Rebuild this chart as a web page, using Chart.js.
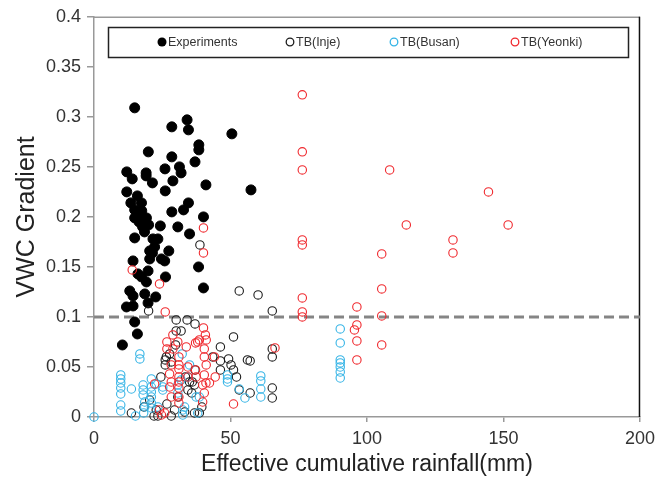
<!DOCTYPE html>
<html>
<head>
<meta charset="utf-8">
<script src="https://cdn.jsdelivr.net/npm/chart.js@4.4.1/dist/chart.umd.min.js"></script>
<style>
  html, body { margin: 0; padding: 0; background: #fff; }
  #wrap { width: 661px; height: 478px; }
</style>
</head>
<body>
<div id="wrap"><canvas id="chart" width="661" height="478"></canvas></div>
<script>
/* ================= DATA ================= */
const xTicks = [0, 50, 100, 150, 200];
const yTicks = [0, 0.05, 0.1, 0.15, 0.2, 0.25, 0.3, 0.35, 0.4];
const yTickLabels = ["0", "0.05", "0.1", "0.15", "0.2", "0.25", "0.3", "0.35", "0.4"];
const thresholdY = 0.1;
const seriesNames = ["Experiments", "TB(Inje)", "TB(Busan)", "TB(Yeonki)"];

// [effective cumulative rainfall (mm), VWC gradient]
const experiments = [
  [14.9, 0.309], [28.5, 0.290], [34.1, 0.297], [34.6, 0.287], [50.5, 0.283],
  [19.9, 0.265], [38.4, 0.272], [38.4, 0.267], [28.5, 0.260], [37.0, 0.255],
  [12.0, 0.245], [14.0, 0.238], [19.1, 0.244], [19.1, 0.241], [21.4, 0.234],
  [26.0, 0.248], [31.3, 0.250], [31.9, 0.244], [28.9, 0.236], [26.1, 0.226],
  [41.0, 0.232], [12.0, 0.225], [15.9, 0.221], [13.5, 0.214], [17.4, 0.214],
  [14.9, 0.207], [17.5, 0.206], [34.6, 0.214], [32.8, 0.207], [28.5, 0.205],
  [40.1, 0.200], [57.5, 0.227], [14.9, 0.199], [19.2, 0.199], [24.3, 0.191],
  [30.7, 0.190], [35.0, 0.183], [14.9, 0.179], [21.6, 0.178], [23.4, 0.178],
  [21.4, 0.164], [27.4, 0.166], [24.7, 0.158], [25.9, 0.156], [20.4, 0.158],
  [14.3, 0.156], [38.3, 0.150], [19.8, 0.146], [16.1, 0.143], [17.4, 0.140],
  [19.2, 0.135], [26.2, 0.140], [13.1, 0.126], [14.3, 0.121], [18.6, 0.123],
  [22.6, 0.120], [19.8, 0.114], [40.1, 0.129], [11.9, 0.110], [14.3, 0.111],
  [14.9, 0.095], [15.9, 0.083], [10.4, 0.072], [16.5, 0.195], [17.8, 0.190],
  [18.5, 0.185], [16.0, 0.200], [20.0, 0.192], [15.5, 0.199], [18.0, 0.198],
  [22.2, 0.170], [20.4, 0.166]
];

const inje = [
  [20.0, 0.106], [38.8, 0.172], [53.2, 0.126], [60.1, 0.122], [65.3, 0.106],
  [30.1, 0.097], [34.1, 0.097], [37.0, 0.093], [31.9, 0.086], [30.1, 0.086],
  [51.1, 0.080], [46.3, 0.070], [29.9, 0.072], [43.5, 0.060], [46.3, 0.056],
  [46.3, 0.047], [49.3, 0.058], [50.2, 0.052], [51.1, 0.047], [52.2, 0.040],
  [57.2, 0.056], [65.3, 0.068], [65.3, 0.060], [65.3, 0.029], [65.3, 0.019],
  [57.2, 0.024], [53.2, 0.027], [26.1, 0.057], [28.3, 0.055], [26.1, 0.052],
  [34.4, 0.027], [35.8, 0.024], [30.7, 0.020], [20.4, 0.017], [18.3, 0.010],
  [22.8, 0.007], [29.5, 0.007], [22.0, 0.001], [23.4, 0.001], [33.2, 0.005],
  [36.8, 0.004], [28.3, 0.001], [13.7, 0.004], [26.7, 0.013], [36.0, 0.035],
  [38.6, 0.004], [56.2, 0.057], [37.0, 0.047], [33.5, 0.040], [24.5, 0.040],
  [39.5, 0.010], [27.7, 0.063], [26.5, 0.060], [35.0, 0.035], [36.8, 0.032]
];

const busan = [
  [0, 0], [9.8, 0.042], [9.8, 0.038], [9.8, 0.034], [9.8, 0.029], [9.8, 0.023],
  [9.8, 0.012], [9.8, 0.006], [13.7, 0.028], [15.2, 0.001], [16.8, 0.063],
  [16.8, 0.058], [18.0, 0.032], [18.0, 0.027], [18.0, 0.022], [18.6, 0.015],
  [18.6, 0.010], [18.2, 0.004], [21.0, 0.038], [21.0, 0.030], [21.0, 0.025],
  [21.0, 0.020], [21.0, 0.014], [21.0, 0.009], [22.8, 0.033], [23.4, 0.010],
  [25.2, 0.030], [25.2, 0.027], [30.7, 0.032], [30.7, 0.024], [31.9, 0.037],
  [32.3, 0.063], [32.5, 0.007], [32.5, 0.002], [33.2, 0.010], [34.4, 0.040],
  [35.0, 0.052], [38.6, 0.020], [38.0, 0.004], [37.4, 0.020], [48.9, 0.042],
  [48.9, 0.038], [48.9, 0.035], [53.2, 0.028], [55.3, 0.019], [61.1, 0.041],
  [61.1, 0.036], [61.1, 0.028], [61.1, 0.020], [90.2, 0.088], [90.2, 0.074],
  [90.2, 0.057], [90.2, 0.054], [90.2, 0.050], [90.2, 0.045], [90.2, 0.039]
];

const yeonki = [
  [76.3, 0.322], [76.3, 0.265], [76.3, 0.247], [76.3, 0.177], [76.3, 0.172],
  [76.3, 0.119], [76.3, 0.105], [76.3, 0.100], [108.3, 0.247], [144.5, 0.225],
  [114.4, 0.192], [151.7, 0.192], [131.5, 0.177], [131.5, 0.164], [105.4, 0.163],
  [105.4, 0.128], [105.4, 0.101], [105.4, 0.072], [96.3, 0.110], [96.3, 0.092],
  [95.4, 0.087], [96.3, 0.076], [96.3, 0.057], [40.1, 0.189], [40.1, 0.164],
  [14.0, 0.147], [24.0, 0.133], [26.1, 0.105], [66.3, 0.069], [51.1, 0.013],
  [28.9, 0.082], [26.7, 0.075], [26.7, 0.068], [28.9, 0.068], [28.3, 0.052],
  [27.7, 0.043], [28.3, 0.035], [27.7, 0.030], [28.3, 0.020], [24.0, 0.007],
  [24.7, 0.002], [22.2, 0.033], [31.1, 0.060], [31.1, 0.052], [31.1, 0.048],
  [31.1, 0.040], [31.1, 0.035], [31.1, 0.029], [31.1, 0.020], [31.1, 0.014],
  [33.8, 0.070], [34.4, 0.050], [34.4, 0.040], [37.2, 0.074], [38.6, 0.077],
  [40.8, 0.082], [41.1, 0.077], [40.4, 0.068], [40.4, 0.060], [41.1, 0.052],
  [40.1, 0.089], [37.2, 0.047], [37.4, 0.040], [40.4, 0.042], [39.8, 0.032],
  [40.4, 0.024], [44.1, 0.060], [44.4, 0.040], [41.0, 0.034], [30.7, 0.075],
  [25.9, 0.004], [38.0, 0.075], [42.3, 0.034], [39.8, 0.015]
];

/* ================= HELPERS ================= */
const toPoints = (arr) => arr.map(([x, y]) => ({ x, y }));
const FONT = "'Liberation Sans', Arial, sans-serif";

function openSeries(label, data, color, order) {
  return {
    type: "scatter",
    label,
    data: toPoints(data),
    pointRadius: 4.2,
    pointBorderWidth: 1.1,
    pointBackgroundColor: "rgba(0,0,0,0)",
    pointBorderColor: color,
    borderColor: color,
    backgroundColor: color,
    order,
    clip: false,
  };
}

/* ================= PLUGINS ================= */
const frame = {
  id: "frame",
  beforeDatasetsDraw(chart) {
    const { ctx, chartArea: a } = chart;
    ctx.save();
    ctx.lineWidth = 1.5;
    ctx.strokeStyle = "#999";
    ctx.beginPath();
    ctx.moveTo(a.left, a.top + 0.5);
    ctx.lineTo(a.right, a.top + 0.5);
    ctx.stroke();
    ctx.strokeStyle = "#111";
    ctx.beginPath();
    ctx.moveTo(a.right - 0.5, a.top);
    ctx.lineTo(a.right - 0.5, a.bottom);
    ctx.stroke();
    ctx.restore();
  },
};

const boxedLegend = {
  id: "boxedLegend",
  afterDraw(chart) {
    const ctx = chart.ctx;
    const markX = [162, 290, 394, 515];
    const cy = 42;
    ctx.save();
    ctx.fillStyle = "#fff";
    ctx.fillRect(108, 27, 520, 30);
    ctx.lineWidth = 1.5;
    ctx.strokeStyle = "#222";
    ctx.strokeRect(108.5, 27.5, 520, 30);
    ctx.font = "12.5px " + FONT;
    ctx.textBaseline = "middle";
    ctx.textAlign = "left";
    chart.data.datasets.slice(0, 4).forEach((ds, i) => {
      ctx.beginPath();
      ctx.arc(markX[i], cy, i === 0 ? 4.5 : 3.8, 0, Math.PI * 2);
      if (i === 0) {
        ctx.fillStyle = "#000";
        ctx.fill();
      } else {
        ctx.lineWidth = 1.3;
        ctx.strokeStyle = ds.pointBorderColor;
        ctx.stroke();
      }
      ctx.fillStyle = "#333";
      ctx.fillText(ds.label, markX[i] + 6, cy + 0.5);
    });
    ctx.restore();
  },
};

/* ================= CHART ================= */
new Chart(document.getElementById("chart"), {
  data: {
    datasets: [
      {
        type: "scatter",
        label: seriesNames[0],
        data: toPoints(experiments),
        pointRadius: 5,
        pointBorderWidth: 1,
        pointBackgroundColor: "#000",
        pointBorderColor: "#000",
        borderColor: "#000",
        backgroundColor: "#000",
        order: 4,
        clip: false,
      },
      openSeries(seriesNames[1], inje, "#1c1c1c", 3),
      openSeries(seriesNames[2], busan, "#35b4e6", 2),
      openSeries(seriesNames[3], yeonki, "#f0282d", 1),
      {
        type: "line",
        label: "threshold",
        data: [
          { x: xTicks[0], y: thresholdY },
          { x: xTicks[xTicks.length - 1], y: thresholdY },
        ],
        borderColor: "#858585",
        borderWidth: 3,
        borderDash: [10, 5],
        pointRadius: 0,
        fill: false,
        order: 5,
      },
    ],
  },
  options: {
    responsive: false,
    animation: false,
    events: [],
    layout: { padding: { left: 0, right: 18, top: 15, bottom: 0 } },
    plugins: {
      legend: { display: false },
      tooltip: { enabled: false },
    },
    scales: {
      x: {
        type: "linear",
        min: xTicks[0],
        max: xTicks[xTicks.length - 1],
        afterBuildTicks: (s) => { s.ticks = xTicks.map((v) => ({ value: v })); },
        afterFit: (s) => { s.height = 61; },
        grid: {
          drawOnChartArea: false,
          drawTicks: true,
          tickLength: 5,
          color: "#999",
          lineWidth: 1.5,
        },
        border: { color: "#999", width: 1.5 },
        ticks: {
          padding: 6,
          color: "#333",
          font: { family: FONT, size: 18 },
          callback: (v) => String(v),
        },
        title: {
          display: true,
          text: "Effective cumulative rainfall(mm)",
          color: "#222",
          font: { family: FONT, size: 23 },
          padding: { top: 0, bottom: 0 },
        },
      },
      y: {
        type: "linear",
        min: yTicks[0],
        max: yTicks[yTicks.length - 1],
        afterBuildTicks: (s) => { s.ticks = yTicks.map((v) => ({ value: v })); },
        afterFit: (s) => { s.width = 94; },
        grid: {
          drawOnChartArea: false,
          drawTicks: true,
          tickLength: 7,
          color: "#999",
          lineWidth: 1.5,
        },
        border: { color: "#999", width: 1.5 },
        ticks: {
          padding: 6,
          color: "#333",
          font: { family: FONT, size: 18 },
          callback: (v) => yTickLabels[yTicks.findIndex((t) => Math.abs(t - v) < 1e-9)],
        },
        title: {
          display: true,
          text: "VWC Gradient",
          color: "#222",
          font: { family: FONT, size: 25 },
          padding: { top: 12, bottom: 0 },
        },
      },
    },
  },
  plugins: [frame, boxedLegend],
});
</script>
</body>
</html>
